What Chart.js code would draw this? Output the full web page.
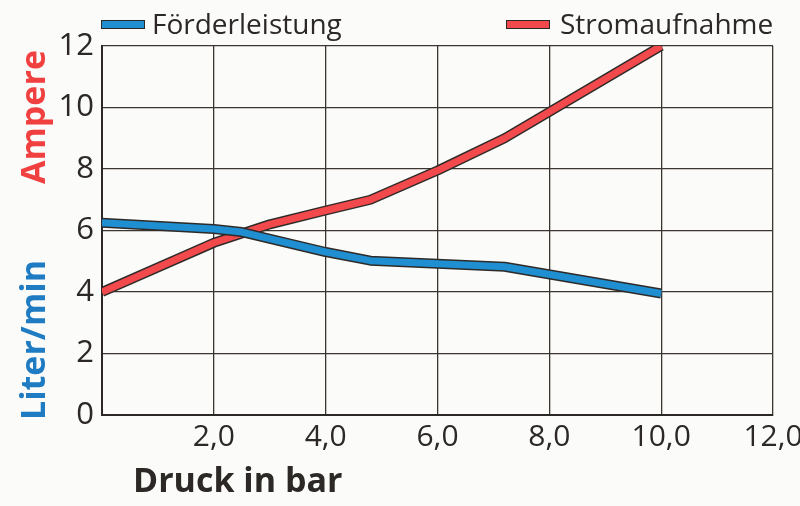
<!DOCTYPE html>
<html>
<head>
<meta charset="utf-8">
<script src="https://cdn.jsdelivr.net/npm/chart.js@4.4.1/dist/chart.umd.min.js"></script>
<style>
  body { margin: 0; background: #fbfbfa; }
  #wrap { position: relative; width: 800px; height: 506px; font-family: "Open Sans", sans-serif; color: #2b2826; }
  canvas { position: absolute; left: 0; top: 0; }
  .lg { position: absolute; font-size: 28px; line-height: 28px; white-space: nowrap; }
  .box { position: absolute; height: 7px; border: 1px solid #2b2826; }
  .ttl { position: absolute; font-weight: bold; font-size: 34px; line-height: 34px; white-space: nowrap; }
  .rot { transform-origin: center center; transform: translate(-50%, -50%) rotate(-90deg); }
</style>
</head>
<body>
<div id="wrap">
  <canvas id="chart" width="800" height="506"></canvas>
  <div class="box" style="left:101px; top:20px; width:42px; background:#1f8fd2;"></div>
  <div class="lg" style="left:152px; top:9px;">Förderleistung</div>
  <div class="box" style="left:506px; top:20px; width:42px; background:#f24a4c;"></div>
  <div class="lg" style="left:560px; top:9px;">Stromaufnahme</div>
  <div class="ttl rot" style="left:32px; top:117px; color:#f0403f;">Ampere</div>
  <div class="ttl rot" style="left:32px; top:340px; color:#1f7cc2;">Liter/min</div>
  <div class="ttl" style="left:133px; top:462px;">Druck in bar</div>
</div>
<script>
// Stromaufnahme (Ampere) over Druck (bar)
const ampPressure = [0, 2, 3, 4, 4.8, 6, 7.2, 10];
const ampValues   = [4.0, 5.6, 6.2, 6.65, 7.0, 7.95, 9.0, 12.0];

// Förderleistung (Liter/min) over Druck (bar)
const flowPressure = [0, 2, 2.5, 4, 4.8, 7.2, 10];
const flowValues   = [6.25, 6.05, 5.95, 5.3, 5.02, 4.82, 3.95];

const xTickLabels = ["", "2,0", "4,0", "6,0", "8,0", "10,0", "12,0"];
const yTickLabels = ["0", "2", "4", "6", "8", "10", "12"];

const toPoints = (xs, ys) => xs.map((x, i) => ({ x: x, y: ys[i] }));

const outline = "#2e2a27";

function lineSet(label, pts, color, width, order) {
  return {
    label: label,
    data: pts,
    borderColor: color,
    borderWidth: width,
    pointRadius: 0,
    tension: 0,
    borderCapStyle: "butt",
    borderJoinStyle: "round",
    order: order
  };
}

const ctx = document.getElementById("chart").getContext("2d");

new Chart(ctx, {
  type: "line",
  data: {
    datasets: [
      lineSet("Förderleistung", toPoints(flowPressure, flowValues), "#1f8fd2", 7, 0),
      lineSet("", toPoints(flowPressure, flowValues), outline, 10, 1),
      lineSet("Stromaufnahme", toPoints(ampPressure, ampValues), "#f24a4c", 7, 2),
      lineSet("", toPoints(ampPressure, ampValues), outline, 10, 3)
    ]
  },
  options: {
    responsive: false,
    animation: false,
    layout: { padding: { left: 42, top: 46, right: 27, bottom: 0 } },
    plugins: {
      legend: { display: false },
      tooltip: { enabled: false }
    },
    scales: {
      x: {
        type: "linear",
        min: 0,
        max: 12,
        afterFit: s => { s.height = 91; s.paddingRight = 0; s.paddingLeft = 0; },
        ticks: {
          stepSize: 2,
          padding: 4,
          maxRotation: 0,
          color: "#2b2826",
          font: { family: "Open Sans", size: 30 },
          callback: (v, i) => xTickLabels[i]
        },
        grid: { color: "#3b3630", lineWidth: 1.3, drawTicks: false },
        border: { color: "#2b2826", width: 2 }
      },
      y: {
        min: 0,
        max: 12,
        afterFit: s => { s.width = 60; s.paddingTop = 0; s.paddingBottom = 0; },
        ticks: {
          stepSize: 2,
          padding: 8,
          color: "#2b2826",
          font: { family: "Open Sans", size: 31 },
          callback: (v, i) => yTickLabels[i]
        },
        grid: { color: "#3b3630", lineWidth: 1.3, drawTicks: false },
        border: { color: "#2b2826", width: 2 }
      }
    }
  }
});
</script>
</body>
</html>
